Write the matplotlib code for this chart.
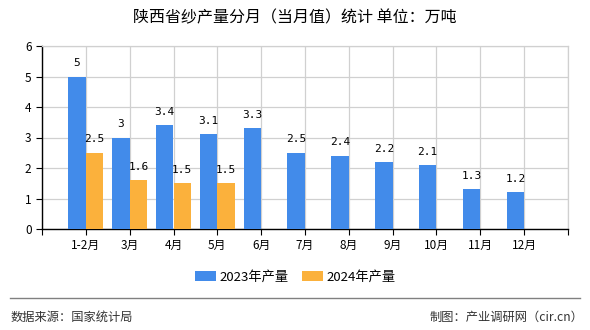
import matplotlib
matplotlib.use("Agg")
import matplotlib.pyplot as plt
import numpy as np

plt.rcParams['font.family'] = ['Noto Sans CJK SC', 'DejaVu Sans']

categories = ['1-2月', '3月', '4月', '5月', '6月', '7月', '8月', '9月', '10月', '11月', '12月']
values_2023 = [5, 3, 3.4, 3.1, 3.3, 2.5, 2.4, 2.2, 2.1, 1.3, 1.2]
values_2024 = [2.5, 1.6, 1.5, 1.5]
series_names = ['2023年产量', '2024年产量']
title = '陕西省纱产量分月（当月值）统计 单位：万吨'
source = '数据来源：国家统计局'
credit = '制图：产业调研网（cir.cn）'

blue = '#428BEA'
orange = '#FBB13C'

fig = plt.figure(figsize=(5.9, 3.3), dpi=100)
ax = fig.add_axes([42/590, 1-229/330, (568-42)/590, (229-46)/330])

x = np.arange(len(categories))
w = 0.4
b1 = ax.bar(x[:len(values_2023)] - w/2, values_2023, width=w, color=blue, label=series_names[0], zorder=3)
b2 = ax.bar(x[:len(values_2024)] + w/2, values_2024, width=w, color=orange, label=series_names[1], zorder=3)

for bars, vals in ((b1, values_2023), (b2, values_2024)):
    for rect, v in zip(bars, vals):
        ax.annotate(f'{v:g}', (rect.get_x() + rect.get_width()/2, v), xytext=(0, 6),
                    textcoords='offset points', ha='center', va='bottom',
                    fontsize=8, family='DejaVu Sans Mono', color='#000000')

n = len(categories)
ax.set_xlim(-1, n)
ax.set_ylim(0, 6)
ax.set_yticks(range(0, 7))
ax.set_xticks([-1] + list(x) + [n])
ax.set_xticklabels([''] + categories + [''], fontsize=8.5)
ax.tick_params(axis='y', labelsize=8.5, length=4, direction='out')
ax.tick_params(axis='x', length=4, direction='out')

ax.grid(True, color='#D0D0D0', linewidth=0.9, zorder=0)
for s in ('top', 'right'):
    ax.spines[s].set_color('#D0D0D0')
    ax.spines[s].set_linewidth(0.9)
for s in ('left', 'bottom'):
    ax.spines[s].set_color('#000000')
    ax.spines[s].set_linewidth(1.0)

fig.text(0.5, 1-18/330, title, ha='center', va='center', fontsize=11.5)

handles = [b1, b2]
fig.legend(handles, series_names, loc='center', bbox_to_anchor=(0.5, 1-277/330), ncol=2,
           frameon=False, fontsize=9.5, handlelength=1.6, handleheight=0.75, columnspacing=1.0,
           handletextpad=0.25)

fig.add_artist(plt.Line2D([10/590, 580/590], [1-298/330, 1-298/330], color='#808080', linewidth=1.0))
fig.text(11/590, 1-317/330, source, ha='left', va='center', fontsize=8.8, color='#333333')
fig.text(583/590, 1-317/330, credit, ha='right', va='center', fontsize=8.8, color='#333333')

fig.savefig('out.png', dpi=100)
